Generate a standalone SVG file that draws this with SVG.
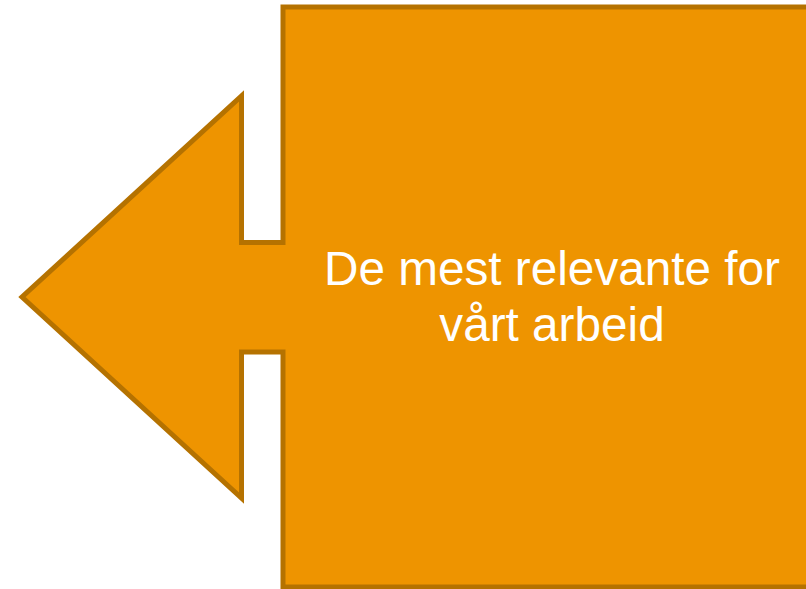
<svg xmlns="http://www.w3.org/2000/svg" width="806" height="589" viewBox="0 0 806 589">
  <style>
    .shape { fill: #EE9400; stroke: #B57200; stroke-width: 5; stroke-linejoin: miter; stroke-miterlimit: 10; }
    .label { font-family: "Liberation Sans", Arial, sans-serif; font-size: 47.7px; fill: #FFFFFF; text-anchor: middle; }
  </style>
  <rect width="806" height="589" fill="#FFFFFF"/>
  <g id="callout">
    <path class="shape" d="M283,7 L812,7 L812,587 L283,587 L283,352 L241.5,352 L241.5,498 L22,297 L241.5,96 L241.5,242.5 L283,242.5 Z"/>
    <text class="label" x="552" y="285">De mest relevante for</text>
    <text class="label" x="552" y="341">vårt arbeid</text>
  </g>
</svg>
